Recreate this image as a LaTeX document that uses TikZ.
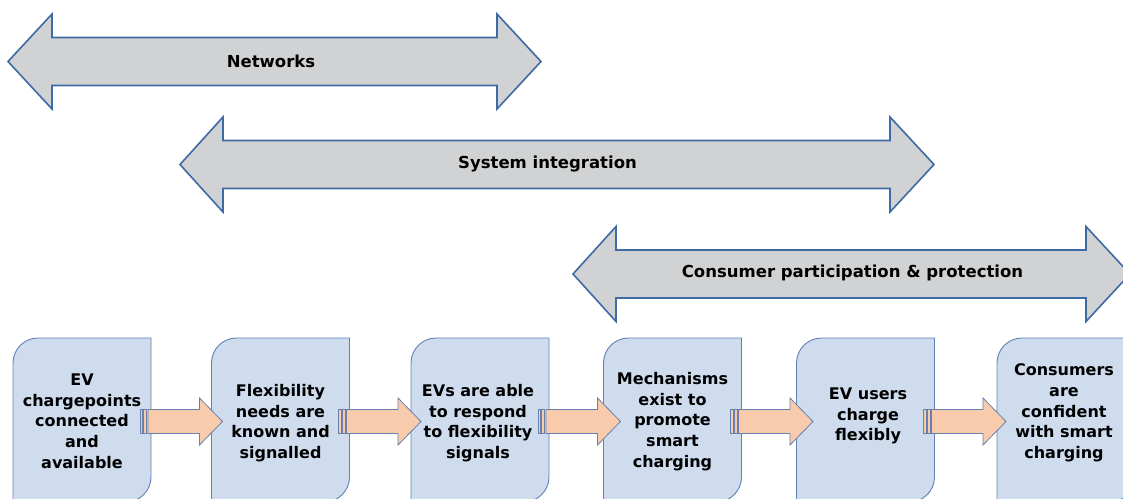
\documentclass[tikz,border=0pt]{standalone}
\usepackage{fontspec}
\setmainfont{DejaVu Sans}
\usetikzlibrary{calc}

\definecolor{bandfill}{RGB}{208,210,211}
\definecolor{bandline}{RGB}{62,106,165}
\definecolor{boxfill}{RGB}{207,220,238}
\definecolor{boxline}{RGB}{96,128,182}
\definecolor{stepfill}{RGB}{248,203,173}
\definecolor{stepline}{RGB}{104,128,172}

\tikzset{
  band/.style={fill=bandfill, draw=bandline, line width=1.6pt, line join=miter},
  bandlabel/.style={font=\fontsize{16.5}{20}\selectfont\bfseries, inner sep=0pt},
  frame/.style={minimum width=138pt, minimum height=164pt, inner sep=0pt, outer sep=0pt},
  boxshape/.style={fill=boxfill, draw=boxline, line width=0.9pt},
  boxtext/.style={font=\fontsize{16}{20.7}\selectfont\bfseries, align=center, inner sep=0pt},
  flow/.style={fill=stepfill, draw=stepline, line width=0.8pt, line join=miter},
}

% two-headed band: left tip x, left head base x, right head base x, right tip x, centre y
\newcommand\twowayarrow[5]{%
  \draw[band] (#1,#5) -- (#2,#5-47.5) -- (#2,#5-24) -- (#3,#5-24) -- (#3,#5-47.5)
    -- (#4,#5) -- (#3,#5+47.5) -- (#3,#5+24) -- (#2,#5+24) -- (#2,#5+47.5) -- cycle;}

% box with rounded top-left and bottom-right corners, drawn on a frame node
\newcommand\roundcornerbox[1]{%
  \draw[boxshape] (#1.south west) -- ($(#1.north west)+(0,25)$)
    arc[start angle=180, end angle=270, radius=25]
    -- (#1.north east) -- ($(#1.south east)+(0,-25)$)
    arc[start angle=0, end angle=90, radius=25] -- cycle;}

% striped block arrow leaving box #1 towards box #2
\newcommand\steparrow[2]{%
  \draw[flow] ($(#1.east)+(-11,-10.5)$) rectangle ($(#1.east)+(-8.5,13.5)$);
  \draw[flow] ($(#1.east)+(-7.5,-10.5)$) rectangle ($(#1.east)+(-4.5,13.5)$);
  \draw[flow] ($(#1.east)+(-3,-10.5)$) -- ($(#1.east)+(48.5,-10.5)$)
    -- ($(#1.east)+(48.5,-22)$) -- ($(#1.east)+(71.5,1.5)$)
    -- ($(#1.east)+(48.5,25)$) -- ($(#1.east)+(48.5,13.5)$)
    -- ($(#1.east)+(-3,13.5)$) -- cycle;}

\begin{document}
\begin{tikzpicture}[x=1pt, y=-1pt]
\useasboundingbox (0,0) rectangle (1123,498);

% theme bands
\twowayarrow{8}{52}{497}{541}{61.5}
\node[bandlabel] (net) at (271,61) {Networks};

\twowayarrow{180}{223}{890}{934}{164.5}
\node[bandlabel] (sys) at (547.5,164) {System integration};

\twowayarrow{573}{616}{1086}{1130}{274}
\node[bandlabel] (cpp) at (852.5,273) {Consumer participation \& protection};

% outcome boxes
\node[frame] (b1) at (82,420) {};
\node[frame] (b2) at (280.5,420) {};
\node[frame] (b3) at (480,420) {};
\node[frame] (b4) at (672.5,420) {};
\node[frame] (b5) at (865.5,420) {};
\node[frame] (b6) at (1066,420) {};
\foreach \b in {b1,b2,b3,b4,b5,b6} {\roundcornerbox{\b}}

\node[boxtext] (t1) at (82,421) {EV\\chargepoints\\connected\\and\\available};
\node[boxtext] (t2) at (280.5,423) {Flexibility\\needs are\\known and\\signalled};
\node[boxtext] (t3) at (478,423) {EVs are able\\to respond\\to flexibility\\signals};
\node[boxtext] (t4) at (672.5,421.5) {Mechanisms\\exist to\\promote\\smart\\charging};
\node[boxtext] (t5) at (868,416) {EV users\\charge\\flexibly};
\node[boxtext] (t6) at (1064,413) {Consumers\\are\\confident\\with smart\\charging};

% progression arrows
\steparrow{b1}{b2}
\steparrow{b2}{b3}
\steparrow{b3}{b4}
\steparrow{b4}{b5}
\steparrow{b5}{b6}
\end{tikzpicture}
\end{document}
